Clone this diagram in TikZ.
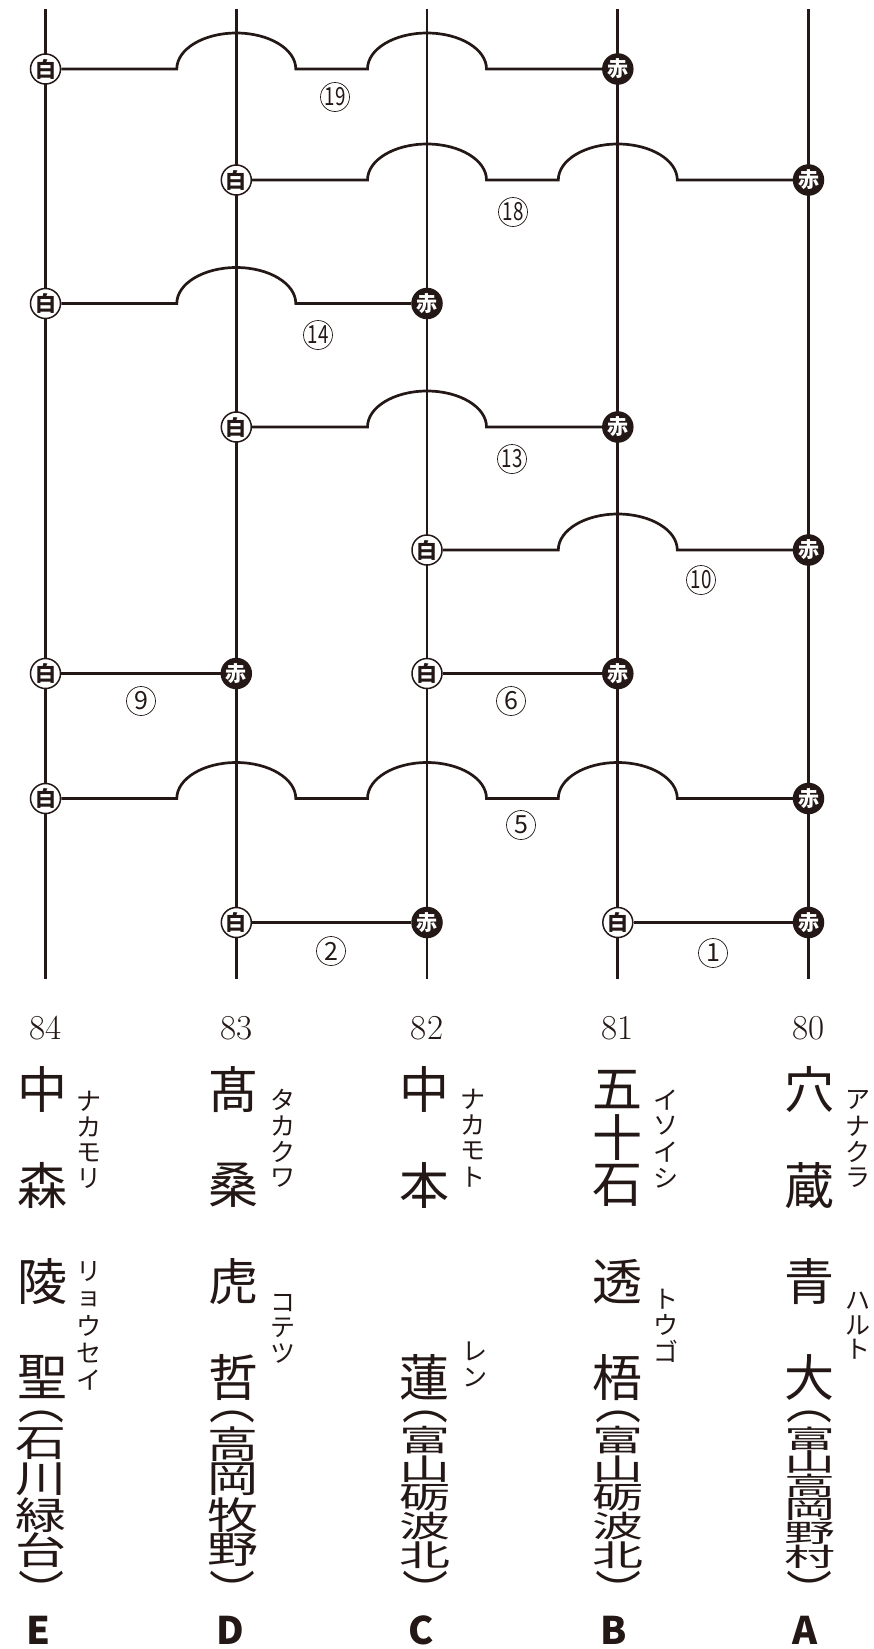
\documentclass[tikz,border=0pt]{standalone}
\usepackage{fontspec}
\newfontfamily\cjk{Noto Sans CJK JP}
\usetikzlibrary{positioning}
\definecolor{ink}{HTML}{231815}

\begin{document}
\begin{tikzpicture}[x=1pt,y=-1pt,
 every node/.style={text=ink},
 pole/.style={draw=ink,line width=2.7pt},
 rung/.style={draw=ink,line width=2.7pt},
 hop/.style={start angle=180,end angle=360,x radius=59.5,y radius=36},
 shiro/.style={circle,draw=ink,line width=1.5pt,fill=white,minimum size=30pt,inner sep=0pt,font=\cjk\bfseries\fontsize{21}{21}\selectfont},
 aka/.style={shiro,fill=ink,text=white},
 num/.style={circle,draw=ink,line width=0.7pt,minimum size=29pt,inner sep=0pt,font=\cjk\fontsize{25}{25}\selectfont},
 bango/.style={inner sep=0pt,font=\fontsize{35}{35}\selectfont},
 namae/.style={inner sep=0pt,font=\cjk\fontsize{50}{50}\selectfont},
 kana/.style={inner sep=0pt,font=\cjk\fontsize{25}{25}\selectfont},
 kakko/.style={inner sep=0pt,font=\cjk\fontsize{46}{46}\selectfont},
 tojiru/.style={kakko,anchor=north},
 koko/.style={inner sep=0pt,font=\cjk\fontsize{51}{51}\selectfont},
 team/.style={inner sep=0pt,font=\cjk\bfseries\fontsize{38}{38}\selectfont}
]
\useasboundingbox (0,0) rectangle (874,1649);

% poles
\coordinate (Etop) at (45.5,9);  \coordinate (Ebot) at (45.5,979);
\coordinate (Dtop) at (236.3,9); \coordinate (Dbot) at (236.3,979);
\coordinate (Ctop) at (427,9);   \coordinate (Cbot) at (427,979);
\coordinate (Btop) at (617.8,9); \coordinate (Bbot) at (617.8,979);
\coordinate (Atop) at (808.5,9); \coordinate (Abot) at (808.5,979);
\draw[pole] (Etop)--(Ebot); \draw[pole] (Dtop)--(Dbot); \draw[pole] (Ctop)--(Cbot);
\draw[pole] (Btop)--(Bbot); \draw[pole] (Atop)--(Abot);

% markers
\node[shiro] (s19) at (45.5,69) {白};    \node[aka] (a19) at (617.8,69) {赤};
\node[shiro] (s18) at (236.3,180) {白};  \node[aka] (a18) at (808.5,180) {赤};
\node[shiro] (s14) at (45.5,303.5) {白}; \node[aka] (a14) at (427,303.5) {赤};
\node[shiro] (s13) at (236.3,427) {白};  \node[aka] (a13) at (617.8,427) {赤};
\node[shiro] (s10) at (427,550) {白};    \node[aka] (a10) at (808.5,550) {赤};
\node[shiro] (s9) at (45.5,673.5) {白};  \node[aka] (a9) at (236.3,673.5) {赤};
\node[shiro] (s6) at (427,673.5) {白};   \node[aka] (a6) at (617.8,673.5) {赤};
\node[shiro] (s5) at (45.5,798.5) {白};  \node[aka] (a5) at (808.5,798.5) {赤};
\node[shiro] (s2) at (236.3,922.5) {白}; \node[aka] (a2) at (427,922.5) {赤};
\node[shiro] (s1) at (617.8,922.5) {白}; \node[aka] (a1) at (808.5,922.5) {赤};

% rungs
\draw[rung] (s19) -- (176.8,69) arc[hop] -- (367.5,69) arc[hop] -- (a19);
\draw[rung] (s18) -- (367.5,180) arc[hop] -- (558.3,180) arc[hop] -- (a18);
\draw[rung] (s14) -- (176.8,303.5) arc[hop] -- (a14);
\draw[rung] (s13) -- (367.5,427) arc[hop] -- (a13);
\draw[rung] (s10) -- (558.3,550) arc[hop] -- (a10);
\draw[rung] (s9) -- (a9);
\draw[rung] (s6) -- (a6);
\draw[rung] (s5) -- (176.8,798.5) arc[hop] -- (367.5,798.5) arc[hop] -- (558.3,798.5) arc[hop] -- (a5);
\draw[rung] (s2) -- (a2);
\draw[rung] (s1) -- (a1);

% bout numbers
\node[num] (c19) at (335,97) {\scalebox{.75}[1]{19}};
\node[num] (c18) at (513,212) {\scalebox{.75}[1]{18}};
\node[num] (c14) at (318,335) {\scalebox{.75}[1]{14}};
\node[num] (c13) at (512,459) {\scalebox{.75}[1]{13}};
\node[num] (c10) at (701,580) {\scalebox{.75}[1]{10}};
\node[num] (c9) at (141,701) {9};
\node[num] (c6) at (511,701) {6};
\node[num] (c5) at (521,825) {5};
\node[num] (c2) at (331,951) {2};
\node[num] (c1) at (713,953) {1};

% entry numbers
\node[bango] (n84) at (45.5,1028) {84};
\node[bango] (n83) at (236.3,1028) {83};
\node[bango] (n82) at (427,1028) {82};
\node[bango] (n81) at (617.8,1028) {81};
\node[bango] (n80) at (808.5,1028) {80};

% names, one cell = 48
\foreach \c/\k in {中/0,森/2,陵/4,聖/6}
  \node[namae] (mE\k) at (42.5,{1089.5+48*\k}) {\c};
\foreach \c/\k in {髙/0,桑/2,虎/4,哲/6}
  \node[namae] (mD\k) at (233,{1089.5+48*\k}) {\c};
\foreach \c/\k in {中/0,本/2,蓮/6}
  \node[namae] (mC\k) at (424.5,{1089.5+48*\k}) {\c};
\foreach \c/\k in {五/0,十/1,石/2,透/4,梧/6}
  \node[namae] (mB\k) at (617.5,{1089.5+48*\k}) {\c};
\foreach \c/\k in {穴/0,蔵/2,青/4,大/6}
  \node[namae] (mA\k) at (809,{1089.5+48*\k}) {\c};

% readings
\foreach \c [count=\i from 0] in {ナ,カ,モ,リ}
  \node[kana] (fE\i) at (89,{1101+26*\i}) {\c};
\foreach \c [count=\i from 0] in {リ,ョ,ウ,セ,イ}
  \node[kana] (gE\i) at (89,{1272+27*\i}) {\c};
\foreach \c [count=\i from 0] in {タ,カ,ク,ワ}
  \node[kana] (fD\i) at (282.5,{1100+26*\i}) {\c};
\foreach \c [count=\i from 0] in {コ,テ,ツ}
  \node[kana] (gD\i) at (282.5,{1303+25*\i}) {\c};
\foreach \c [count=\i from 0] in {ナ,カ,モ,ト}
  \node[kana] (fC\i) at (473,{1099+26*\i}) {\c};
\foreach \c [count=\i from 0] in {レ,ン}
  \node[kana] (gC\i) at (475,{1351+27*\i}) {\c};
\foreach \c [count=\i from 0] in {イ,ソ,イ,シ}
  \node[kana] (fB\i) at (666,{1100+26*\i}) {\c};
\foreach \c [count=\i from 0] in {ト,ウ,ゴ}
  \node[kana] (gB\i) at (666,{1299+26*\i}) {\c};
\foreach \c [count=\i from 0] in {ア,ナ,ク,ラ}
  \node[kana] (fA\i) at (858,{1100+26*\i}) {\c};
\foreach \c [count=\i from 0] in {ハ,ル,ト}
  \node[kana] (gA\i) at (858,{1301+24*\i}) {\c};

% schools, squeezed to one length
\node[kakko] (oE) at (41,1416.5) {︵};
\foreach \c [count=\i from 0] in {石,川,緑,台}
  \node[koko] (kE\i) at (41,{1444+35.5*\i}) {\scalebox{1}[.74]{\c}};
\node[tojiru] (eE) at (41,1570.5) {︶};
\node[kakko] (oD) at (232.5,1416.5) {︵};
\foreach \c [count=\i from 0] in {高,岡,牧,野}
  \node[koko] (kD\i) at (232.5,{1444+35.5*\i}) {\scalebox{1}[.74]{\c}};
\node[tojiru] (eD) at (232.5,1570.5) {︶};
\node[kakko] (oC) at (425,1416.5) {︵};
\foreach \c [count=\i from 0] in {富,山,砺,波,北}
  \node[koko] (kC\i) at (425,{1440+28.75*\i}) {\scalebox{1}[.59]{\c}};
\node[tojiru] (eC) at (425,1570.5) {︶};
\node[kakko] (oB) at (618,1416.5) {︵};
\foreach \c [count=\i from 0] in {富,山,砺,波,北}
  \node[koko] (kB\i) at (618,{1440+28.75*\i}) {\scalebox{1}[.59]{\c}};
\node[tojiru] (eB) at (618,1570.5) {︶};
\node[kakko] (oA) at (809.5,1416.5) {︵};
\foreach \c [count=\i from 0] in {富,山,高,岡,野,村}
  \node[koko] (kA\i) at (809.5,{1438.5+23.7*\i}) {\scalebox{1}[.5]{\c}};
\node[tojiru] (eA) at (809.5,1570.5) {︶};

% corners
\node[team] (tE) at (38,1630) {E};
\node[team] (tD) at (230,1630) {D};
\node[team] (tC) at (421,1630) {C};
\node[team] (tB) at (614,1630) {B};
\node[team] (tA) at (805,1630) {A};
\end{tikzpicture}
\end{document}
